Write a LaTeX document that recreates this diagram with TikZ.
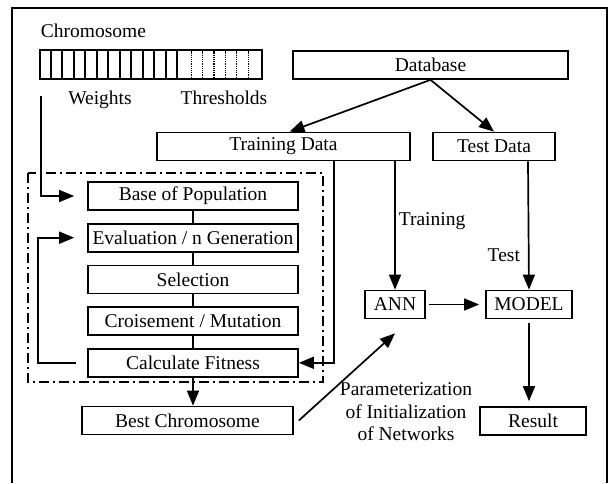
\documentclass[tikz,border=0pt]{standalone}
\usepackage{fontspec}
\setmainfont{Liberation Serif}
\usetikzlibrary{arrows.meta, positioning}

\begin{document}
\begin{tikzpicture}[
  x=1pt, y=-1pt,
  font=\fontsize{19.5}{22.5}\selectfont,
  line width=1.7pt,
  node distance=12pt,
  box/.style    = {draw, inner sep=0pt, minimum height=28pt},
  gabox/.style  = {box, minimum width=210pt},
  lbl/.style    = {inner sep=0pt},
  arr/.style    = {-{Triangle[length=15pt,width=12pt]}},
  gaframe/.style= {dash pattern=on 10pt off 4pt on 2pt off 4pt},
]
\useasboundingbox (0,0) rectangle (611,483);
\draw (12,483) -- (12,8) -- (607,8) -- (607,483);

% chromosome string
\node[lbl, anchor=west] (chlbl) at (40,31) {Chromosome};
\node[box, minimum width=222pt, minimum height=29pt] (chrom) at (151,64.5) {};
\foreach \i in {1,...,12}
  \draw ([xshift={\i*11.5pt}]chrom.south west) -- ([xshift={\i*11.5pt}]chrom.north west);
\foreach \i in {0,...,5}
  \draw[densely dotted, line width=1.2pt, shorten <=2pt, shorten >=2pt]
    ([xshift={152pt+\i*11.4pt}]chrom.south west) -- ([xshift={152pt+\i*11.4pt}]chrom.north west);
\node[lbl, anchor=base] (wlbl) at (100,104) {Weights};
\node[lbl, anchor=base] (tlbl) at (224,104) {Thresholds};

% data
\node[box, minimum width=275pt] (db)    at (430.5,65)  {Database};
\node[box, minimum width=253pt] (train) at (283.5,146.5) {Training Data};
\node[box, minimum width=122pt] (test)  at (494,146.5) {Test Data};

% genetic algorithm
\node[gabox] (pop) at (193,196) {Base of Population};
\node[gabox, below=of pop]   (eval)  {Evaluation / n Generation};
\node[gabox, below=of eval]  (sel)   {Selection};
\node[gabox, below=of sel]   (cross) {Croisement / Mutation};
\node[gabox, below=of cross] (fit)   {Calculate Fitness};
\draw[gaframe] (28,173) rectangle (323,382);
\node[box, minimum width=211pt] (best) at (187.5,420.5) {Best Chromosome};

% network
\node[box, minimum width=60pt]  (ann)    at (395,304.5) {ANN};
\node[box, minimum width=86pt]  (model)  at (529,304.5) {MODEL};
\node[box, minimum width=106pt] (result) at (533,421)   {Result};

\foreach \x/\y in {pop/eval,eval/sel,sel/cross,cross/fit}
  \draw (\x) -- (\y);

\draw[arr] (db.south) -- ([xshift=6pt]train.north);
\draw[arr] (db.south) -- (test.north);
\draw[arr, shorten >=13pt] ([xshift=2pt, yshift=-16pt]chrom.south west) |- (pop.west);
\draw[arr, shorten <=11pt, shorten >=13pt] (fit.west) -- ++(-49,0) |- (eval.west);
\draw[arr] ([xshift=50.5pt]train.south) |- (fit.east);
\draw[arr] (fit.south) -- (fit.south |- best.north);
\draw[arr] (train.south -| ann.north) -- (ann.north)
  node[lbl, pos=0.5, anchor=base west, xshift=3pt] (trlbl) {Training};
\draw[arr] ([xshift=34pt]test.south) -- (model.north)
  node[lbl, pos=0.78, anchor=base east, xshift=-8pt] (telbl) {Test};
\draw[arr, shorten <=3pt, shorten >=6pt] (ann) -- (model);
\draw[arr, shorten <=4pt, shorten >=5pt] (model.south) -- (model.south |- result.north);
\draw[arr] ([xshift=5pt]best.east) -- ([yshift=-14pt]ann.south);

\node[lbl, anchor=north, align=center] (plbl) at (406,382)
  {Parameterization\\of Initialization\\of Networks};
\end{tikzpicture}
\end{document}
